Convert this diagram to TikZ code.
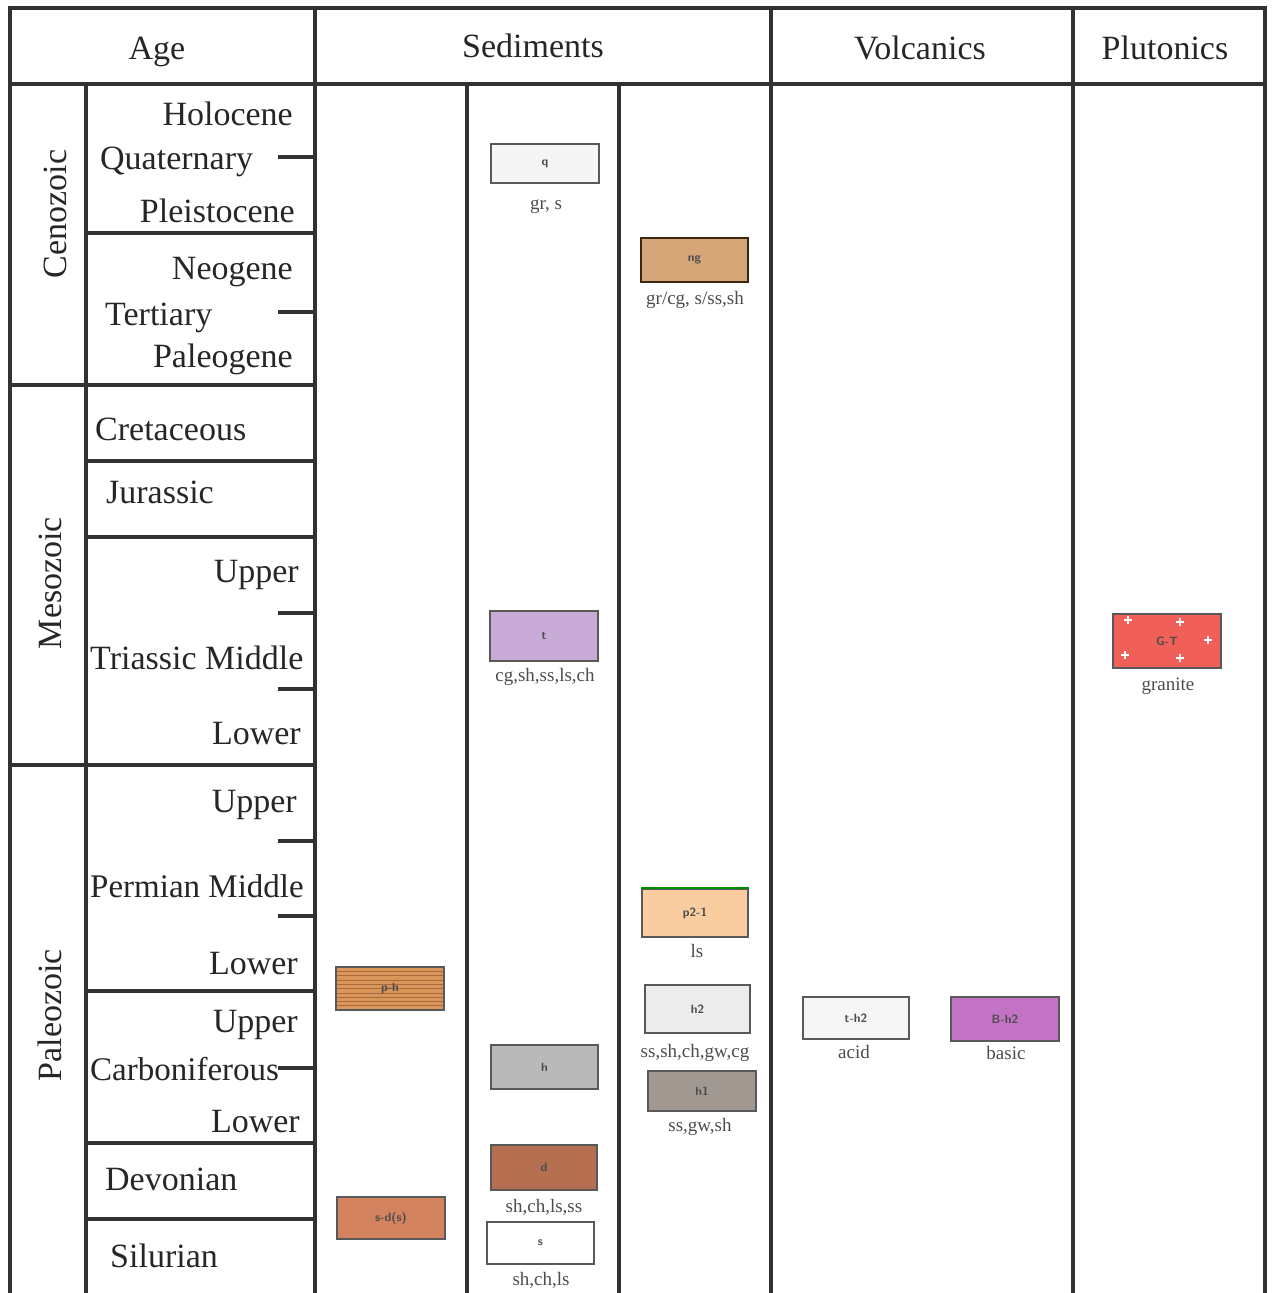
\documentclass[tikz,border=0pt]{standalone}
\usepackage{fontspec}
\setmainfont{Liberation Serif}
\definecolor{gridc}{RGB}{50,50,50}
\definecolor{ngc}{RGB}{214,166,120}
\definecolor{trc}{RGB}{200,170,215}
\definecolor{grc}{RGB}{240,96,88}
\definecolor{pac}{RGB}{250,205,160}
\definecolor{phc}{RGB}{216,150,90}
\definecolor{phs}{RGB}{170,105,60}
\definecolor{hac}{RGB}{160,152,145}
\definecolor{bac}{RGB}{195,115,195}
\definecolor{dec}{RGB}{180,110,80}
\definecolor{sdc}{RGB}{210,130,95}
\begin{document}
\begin{tikzpicture}[x=1pt,y=-1pt,
  gridline/.style={line width=3.2pt, draw=gridc},
  big/.style={font=\fontsize{34}{40}\selectfont, inner sep=0pt, text=black!85},
  small/.style={font=\fontsize{19}{22}\selectfont, inner sep=0pt, text=black!70},
  rock/.style={draw=black!65, line width=1.6pt, inner sep=0pt,
    font=\fontsize{12}{14}\selectfont\sffamily\bfseries, text=black!70},
]
\useasboundingbox (0,0) rectangle (1274,1293);
% frame
\draw[gridline] (10,1293) -- (10,8) -- (1265,8) -- (1265,1293);
\draw[gridline] (10,84) -- (1265,84);
\foreach \xx in {315,771,1073} \draw[gridline] (\xx,8) -- (\xx,1293);
\foreach \xx in {86,467,619} \draw[gridline] (\xx,84) -- (\xx,1293);
\foreach \yy in {385,765} \draw[gridline] (10,\yy) -- (315,\yy);
\foreach \yy in {233,461,537,991,1143,1219} \draw[gridline] (86,\yy) -- (315,\yy);
\foreach \yy in {157,312,613,689,841,916,1068} \draw[gridline] (278,\yy) -- (315,\yy);
% headers
\node[big, anchor=base] (hage) at (157,59) {Age};
\node[big, anchor=base] (hsed) at (533,57) {Sediments};
\node[big, anchor=base] (hvol) at (920,59) {Volcanics};
\node[big, anchor=base] (hplu) at (1165,59) {Plutonics};
% eras
\node[big, rotate=90] (ceno) at (55,214) {Cenozoic};
\node[big, rotate=90] (meso) at (50,583) {Mesozoic};
\node[big, rotate=90] (paleo) at (50,1015) {Paleozoic};
% periods
\node[big, anchor=base east] (holo) at (293,125) {Holocene};
\node[big, anchor=base west] (quat) at (100,169) {Quaternary};
\node[big, anchor=base east] (plei) at (295,222) {Pleistocene};
\node[big, anchor=base east] (neog) at (293,279) {Neogene};
\node[big, anchor=base west] (tert) at (105,325) {Tertiary};
\node[big, anchor=base east] (paleog) at (293,367) {Paleogene};
\node[big, anchor=base west] (cret) at (95,440) {Cretaceous};
\node[big, anchor=base west] (jura) at (106,503) {Jurassic};
\node[big, anchor=base east] (tru) at (299,582) {Upper};
\node[big, anchor=base west] (trm) at (90,669) {Triassic Middle};
\node[big, anchor=base east] (trl) at (301,744) {Lower};
\node[big, anchor=base east] (peu) at (297,812) {Upper};
\node[big, anchor=base west, font=\fontsize{33}{40}\selectfont] (pem) at (90,897) {Permian Middle};
\node[big, anchor=base east] (pel) at (298,974) {Lower};
\node[big, anchor=base east] (cau) at (298,1032) {Upper};
\node[big, anchor=base west, font=\fontsize{33}{40}\selectfont] (cam) at (90,1080) {Carboniferous};
\node[big, anchor=base east] (cal) at (300,1132) {Lower};
\node[big, anchor=base west] (devo) at (105,1190) {Devonian};
\node[big, anchor=base west] (silu) at (110,1267) {Silurian};
% rock units
\node[rock, fill=gray!8, minimum width=108pt, minimum height=39pt] (q) at (545,163.5) {q};
\node[small, anchor=base] (ql) at (546,209) {gr, s};
\node[rock, draw=black!70!brown, fill=ngc, minimum width=107pt, minimum height=44pt] (ng) at (694.5,260) {ng};
\node[small, anchor=base] (ngl) at (695,304) {gr/cg, s/ss,sh};
\node[rock, fill=trc, minimum width=108pt, minimum height=50pt] (tr) at (544,636) {t};
\node[small, anchor=base] (trl2) at (545,681) {cg,sh,ss,ls,ch};
\node[rock, fill=grc, minimum width=108pt, minimum height=54pt,
  path picture={\foreach \px/\py in {-39/21,13/19,41/1,-42/-14,13/-17}
    \draw[white, line width=1.2pt] ([shift={(\px pt-4pt,\py pt)}]path picture bounding box.center) -- ++(8pt,0pt)
      ([shift={(\px pt,\py pt-4pt)}]path picture bounding box.center) -- ++(0pt,8pt);}]
  (gr) at (1167,641) {G-T};
\node[small, anchor=base] (grl) at (1168,690) {granite};
\node[rock, fill=pac, minimum width=106pt, minimum height=48pt] (pa) at (695,913) {p2-1};
\draw[green!55!black, line width=1.5pt] (pa.north west) -- (pa.north east);
\node[small, anchor=base] (pal) at (697,957) {ls};
\node[rock, fill=phc, minimum width=108pt, minimum height=43pt,
  path picture={\foreach \k in {1,...,9}
    \draw[phs, line width=0.6pt] ([yshift=-\k*4.3pt]path picture bounding box.north west) -- ([yshift=-\k*4.3pt]path picture bounding box.north east);}]
  (ph) at (390,988.5) {p-h};
\node[rock, fill=gray!15, minimum width=105pt, minimum height=48pt] (hb) at (697.5,1009) {h2};
\node[small, anchor=base] (hbl) at (695,1057) {ss,sh,ch,gw,cg};
\node[rock, fill=hac, minimum width=108pt, minimum height=40pt] (ha) at (702,1091) {h1};
\node[small, anchor=base] (hal) at (700,1131) {ss,gw,sh};
\node[rock, fill=gray!7, minimum width=106pt, minimum height=42pt] (ac) at (856,1018) {t-h2};
\node[small, anchor=base] (acl) at (854,1058) {acid};
\node[rock, fill=bac, minimum width=108pt, minimum height=44pt] (ba) at (1005,1019) {B-h2};
\node[small, anchor=base] (bal) at (1006,1059) {basic};
\node[rock, fill=gray!55, minimum width=107pt, minimum height=44pt] (hc) at (544.5,1067) {h};
\node[rock, fill=dec, minimum width=106pt, minimum height=45pt] (de) at (544,1167.5) {d};
\node[small, anchor=base] (del) at (544,1212) {sh,ch,ls,ss};
\node[rock, fill=sdc, minimum width=108pt, minimum height=42pt] (sd) at (391,1218) {s-d(s)};
\node[rock, fill=white, minimum width=107pt, minimum height=42pt] (si) at (540.5,1243) {s};
\node[small, anchor=base] (sil) at (541,1285) {sh,ch,ls};
\end{tikzpicture}
\end{document}
